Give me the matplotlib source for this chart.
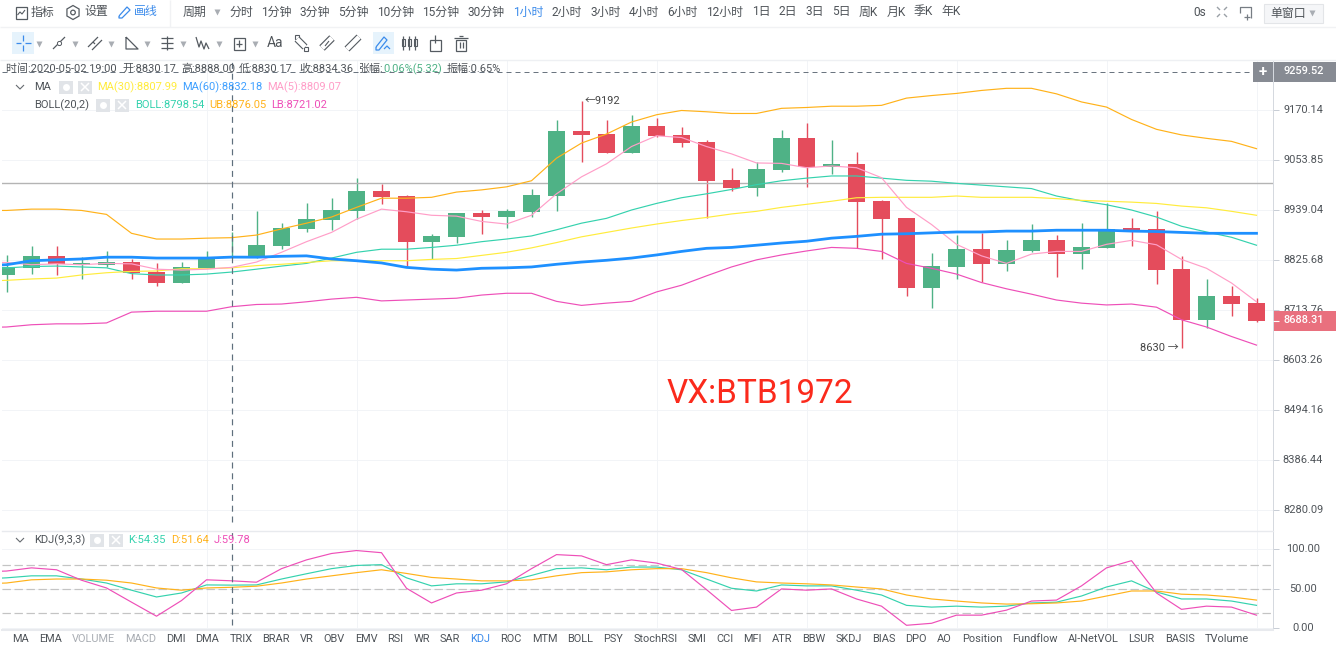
import numpy as np
import matplotlib
matplotlib.use("Agg")
import matplotlib.pyplot as plt
from matplotlib.patches import Rectangle, RegularPolygon, Circle
from matplotlib.transforms import ScaledTranslation

plt.rcParams['font.family'] = ['Roboto', 'Noto Sans CJK SC', 'DejaVu Sans']

# candles, oldest first
opens = [8792, 8808, 8835, 8814, 8815, 8821, 8799, 8773, 8808, 8830.17,
         8831, 8858, 8896, 8916, 8937, 8983, 8971, 8867, 8878, 8932,
         8923, 8934, 8971, 9121, 9114, 9070, 9133, 9112, 9096, 9008,
         8990, 9031, 9105, 9038, 9045, 8960, 8921, 8763, 8810, 8851,
         8817, 8846, 8871, 8839, 8853, 8898, 8896, 8806, 8692, 8745, 8729]
highs = [8837, 8857, 8857, 8832, 8846, 8827, 8820, 8822, 8846, 8888,
         8937, 8910, 8955, 8966, 9012, 8999, 8973, 8885, 8932, 8939,
         8941, 8987, 9147, 9192, 9146, 9159, 9151, 9130, 9100, 9035,
         9050, 9124, 9140, 9100, 9072, 8962, 8921, 8842, 8882, 8887,
         8871, 8907, 8882, 8909, 8955, 8921, 8937, 8835, 8783, 8767, 8741]
lows = [8754, 8794, 8792, 8783, 8811, 8783, 8768, 8773, 8808, 8830.17,
        8831, 8851, 8889, 8893, 8919, 8952, 8812, 8827, 8863, 8885,
        8898, 8923, 8937, 9050, 9070, 9070, 9106, 9084, 8920, 8983,
        8971, 9026, 8991, 9022, 8852, 8828, 8745, 8719, 8783, 8776,
        8802, 8844, 8788, 8806, 8853, 8857, 8772, 8630, 8674, 8700, 8688]
closes = [8811, 8835, 8816, 8819, 8821, 8797, 8773, 8810, 8828, 8834.36,
          8860, 8898, 8919, 8939, 8983, 8969, 8867, 8880, 8932, 8923,
          8937, 8973, 9121, 9112, 9070, 9133, 9110, 9093, 9006, 8990,
          9033, 9105, 9038, 9045, 8958, 8919, 8763, 8812, 8851, 8817,
          8848, 8871, 8839, 8855, 8896, 8894, 8803, 8692, 8745, 8727, 8688.31]

# indicator lines start one bar before the first candle
ma30 = [8778, 8780, 8783, 8785, 8792, 8797, 8800, 8801, 8806, 8806, 8807.99,
        8813, 8816, 8820, 8824, 8824, 8824, 8824, 8827, 8829, 8836,
        8843, 8853, 8865, 8878, 8888, 8898, 8907, 8915, 8922, 8930,
        8936, 8945, 8952, 8959, 8967, 8968, 8968, 8968, 8971, 8968,
        8968, 8968, 8965, 8961, 8959, 8957, 8954, 8948, 8944, 8936, 8927]
ma60 = [8813, 8815, 8824, 8826, 8828, 8832, 8832, 8830, 8830, 8830, 8832.18,
        8832, 8834, 8835, 8828, 8824, 8819, 8809, 8805, 8803, 8807,
        8808, 8810, 8816, 8821, 8825, 8830, 8837, 8845, 8852, 8854,
        8859, 8864, 8868, 8875, 8879, 8884, 8885, 8887, 8889, 8889,
        8891, 8891, 8893, 8893, 8893, 8891, 8890, 8888, 8886, 8886, 8886]
ma5 = [8821, 8820, 8815, 8817, 8815, 8818, 8817, 8805, 8803, 8805, 8809.07,
       8821, 8843, 8867, 8888, 8918, 8941, 8935, 8927, 8925, 8913,
       8907, 8927, 8976, 9015, 9045, 9085, 9110, 9106, 9085, 9068,
       9047, 9046, 9036, 9040, 9036, 9013, 8945, 8906, 8861, 8835,
       8818, 8839, 8845, 8845, 8861, 8870, 8860, 8827, 8807, 8774, 8732]
boll = [8807, 8808, 8811, 8812, 8810, 8808, 8795, 8792, 8792, 8794, 8798.54,
        8805, 8812, 8818, 8830, 8843, 8850, 8850, 8854, 8859, 8867,
        8873, 8880, 8894, 8909, 8920, 8939, 8954, 8967, 8976, 8986,
        8997, 9006, 9012, 9017, 9017, 9012, 9007, 9005, 9000, 8996,
        8992, 8988, 8971, 8960, 8951, 8939, 8923, 8902, 8889, 8877, 8859]
ub = [8938, 8938, 8941, 8941, 8938, 8929, 8886, 8873, 8873, 8875, 8876.05,
      8882, 8896, 8909, 8923, 8945, 8966, 8966, 8968, 8980, 8985,
      8992, 9006, 9058, 9093, 9114, 9142, 9159, 9169, 9166, 9162,
      9162, 9174, 9176, 9179, 9179, 9181, 9198, 9204, 9209, 9216,
      9221, 9221, 9208, 9189, 9177, 9148, 9125, 9112, 9104, 9097, 9080]
lb = [8675, 8676, 8681, 8683, 8683, 8685, 8709, 8711, 8711, 8711, 8721.02,
      8726, 8727, 8732, 8738, 8742, 8734, 8736, 8738, 8740, 8747,
      8751, 8751, 8733, 8724, 8729, 8733, 8754, 8769, 8790, 8810,
      8826, 8837, 8846, 8854, 8852, 8845, 8818, 8807, 8794, 8775,
      8761, 8749, 8736, 8729, 8725, 8727, 8720, 8692, 8676, 8655, 8636]

kdj_k = [62, 63.5, 66, 66, 62, 57, 48, 39.5, 44.5, 54.6, 54.35,
         54.6, 62, 68.6, 75, 79, 80, 63.5, 53.4, 56, 56,
         58.4, 66.5, 75, 76, 73.6, 77, 77, 73.6, 62, 50.4,
         47, 54.6, 53.4, 53.4, 48, 42, 29, 26.8, 28, 26.8,
         28, 32, 33, 40.7, 52, 59.7, 45.8, 37, 37, 34.4, 29]
kdj_d = [56, 57, 61, 62, 62, 60.5, 57, 50.8, 48, 50.8, 51.64,
         53, 57, 62, 66, 70, 73.6, 69, 64, 62, 59.7,
         59.7, 61, 66, 70, 71, 73.6, 75, 75, 70, 63.5,
         58.4, 57, 56, 54.6, 52, 49.6, 42, 37, 34.4, 32,
         30.6, 31, 32, 34.4, 40.7, 47, 47, 43, 42, 39.5, 35.6]
kdj_j = [71, 72, 76, 73.6, 60.5, 50.8, 33, 15.4, 35, 61, 59.78,
         58, 75, 86, 94, 97.7, 95, 50.4, 32, 44.5, 48,
         56, 75, 92.6, 91, 80, 86, 82, 74, 48.7, 22.6,
         26.8, 49.6, 48, 49.6, 37, 28, 4, 6.5, 16.7, 16.7,
         23, 34.4, 35.6, 53.4, 76, 85, 44.5, 24, 28, 26.8, 16.7]

price_ticks = [9170.14, 9053.85, 8939.04, 8825.68, 8713.76, 8603.26, 8494.16, 8386.44, 8280.09]
kdj_ticks = [100, 50, 0]
kdj_levels = [80, 50, 20]
top_price = 9259.52
drawn_level = 9000
cross_bar = 9

period_tabs = ["分时", "1分钟", "3分钟", "5分钟", "10分钟", "15分钟", "30分钟", "1小时", "2小时", "3小时",
               "4小时", "6小时", "12小时", "1日", "2日", "3日", "5日", "周K", "月K", "季K", "年K"]
indicator_tabs = ["MA", "EMA", "VOLUME", "MACD", "DMI", "DMA", "TRIX", "BRAR", "VR", "OBV", "EMV", "RSI",
                  "WR", "SAR", "KDJ", "ROC", "MTM", "BOLL", "PSY", "StochRSI", "SMI", "CCI", "MFI", "ATR",
                  "BBW", "SKDJ", "BIAS", "DPO", "AO", "Position", "Fundflow", "AI-NetVOL", "LSUR", "BASIS",
                  "TVolume"]

GREEN = "#4fb286"
RED = "#e44c5c"
BLUE = "#3b8beb"
GRID = "#f2f4f7"
TEXT = "#4f5459"
C_MA30 = "#ffec3d"
C_MA60 = "#1e90ff"
C_MA5 = "#ff9ec8"
C_BOLL = "#35d2ae"
C_UB = "#ffb21a"
C_LB = "#ee4fb8"
THIN = 0.85

W, H = 1336, 650
PX = 0.72  # one pixel in points at dpi 100
fig = plt.figure(figsize=(W / 100, H / 100), dpi=100, facecolor="white")
label_up = ScaledTranslation(0, 1 / 100, fig.dpi_scale_trans)


def pane(left, top, right, bottom):
    return fig.add_axes([left / W, 1 - bottom / H, (right - left) / W, (bottom - top) / H])


def style_pane(ax):
    ax.set_xlim(-0.18, 50.66)
    ax.set_xticks(np.arange(8, 51, 6))
    ax.tick_params(axis="x", length=0, labelbottom=False)
    ax.yaxis.tick_right()
    ax.tick_params(axis="y", length=6 * PX, width=PX, color="#c9ced6", pad=24 * PX,
                   labelsize=7.9, labelcolor=TEXT)
    ax.grid(True, color=GRID, lw=PX)
    ax.set_axisbelow(True)
    for side in ["left", "bottom"]:
        ax.spines[side].set_visible(False)
    ax.spines["top"].set_color("#e8eaee")
    ax.spines["right"].set_color("#d5d9df")
    ax.spines["right"].set_linewidth(PX)


def center_labels(ax):
    for t in ax.get_yticklabels():
        t.set_ha("center")
        t.set_transform(t.get_transform() + label_up)


# main price pane
ax = pane(2, 60, 1273, 531)
ax.set_yscale("log")
ax.set_ylim(8235.8, 9287.9)
style_pane(ax)
ax.spines["top"].set_visible(False)
ax.set_yticks(price_ticks, labels=["%.2f" % p for p in price_ticks])
ax.set_yticks([], minor=True)
center_labels(ax)

bars = np.arange(len(opens))
o = np.array(opens)
c = np.array(closes)
colors = [GREEN if c[i] >= o[i] else RED for i in bars]
ax.vlines(bars, lows, highs, colors=colors, lw=1.0, zorder=2)
ax.bar(bars, np.abs(c - o), bottom=np.minimum(o, c), width=0.68, color=colors, zorder=3)

ax.axhline(drawn_level, color="#b4b4b4", lw=1.0, zorder=2)
ax.axhline(top_price, color="#6b7580", lw=PX, ls=(0, (5, 4)), zorder=2)
ax.axvline(cross_bar, color="#5f6f7d", lw=PX * 1.2, ls=(0, (5, 4)), ymin=0.02, zorder=6)

line_x = np.arange(-1, len(opens))
ax.plot(line_x, ub, color=C_UB, lw=THIN, zorder=4)
ax.plot(line_x, lb, color=C_LB, lw=THIN, zorder=4)
ax.plot(line_x, boll, color=C_BOLL, lw=THIN, zorder=4)
ax.plot(line_x, ma30, color=C_MA30, lw=THIN, zorder=4)
ax.plot(line_x, ma5, color=C_MA5, lw=THIN, zorder=4)
ax.plot(line_x, ma60, color=C_MA60, lw=2.0, zorder=5)

hi_bar = int(np.argmax(highs))
lo_bar = int(np.argmin(lows))
ax.annotate("←%d" % highs[hi_bar], (hi_bar, highs[hi_bar]), xytext=(2, 0), textcoords="offset points",
            ha="left", va="center", fontsize=7.9, color="#444444")
ax.annotate("%d →" % lows[lo_bar], (lo_bar, lows[lo_bar]), xytext=(-2, 0), textcoords="offset points",
            ha="right", va="center", fontsize=7.9, color="#444444")

# KDJ pane
kax = pane(2, 531, 1273, 630)
kax.set_ylim(-1.9, 122.2)
style_pane(kax)
kax.spines["bottom"].set_visible(True)
kax.spines["bottom"].set_color("#e8eaee")
kax.spines["bottom"].set_linewidth(1.5)
kax.spines["top"].set_linewidth(1.0)
kax.set_yticks(kdj_ticks, labels=["%.2f" % v for v in kdj_ticks])
center_labels(kax)
for lv in kdj_levels:
    kax.axhline(lv, color="#c4c4c4", lw=PX * 1.2, ls=(0, (7, 3)), zorder=2)
kax.axvline(cross_bar, color="#5f6f7d", lw=PX * 1.2, ls=(0, (5, 4)), ymin=0.05, zorder=6)
kax.plot(line_x, kdj_k, color=C_BOLL, lw=THIN, zorder=4)
kax.plot(line_x, kdj_d, color=C_UB, lw=THIN, zorder=4)
kax.plot(line_x, kdj_j, color=C_LB, lw=THIN, zorder=5)

# page chrome on top, in pixel coordinates
ui = fig.add_axes([0, 0, 1, 1], zorder=10)
ui.set_xlim(0, W)
ui.set_ylim(H, 0)
ui.axis("off")
ui.patch.set_alpha(0)


def label(x, y, s, color=TEXT, size=8.6, **kw):
    kw.setdefault("va", "center")
    return ui.text(x, y, s, color=color, fontsize=size, **kw)


def seg(xs, ys, color="#555b61", lw=0.9):
    ui.plot(xs, ys, color=color, lw=lw, solid_capstyle="butt")


def box(x, y, w, h, fc="none", ec="none", lw=0.8):
    ui.add_patch(Rectangle((x, y), w, h, facecolor=fc, edgecolor=ec, lw=lw))


renderer = fig.canvas.get_renderer()


def tabs(names, x, y, gap, size, colors_for):
    for name in names:
        t = label(x, y, name, color=colors_for.get(name, TEXT), size=size)
        x += t.get_window_extent(renderer).width + gap


# separators
seg([0, W], [27, 27], "#f1f2f4", 1.0)
seg([0, W], [60, 60], "#eef0f3", 1.0)
seg([170, 170], [0, 27], "#f1f2f4", 1.0)

# first row
box(15.5, 6.5, 11, 12, ec="#555b61", lw=0.9)
seg([17.5, 20, 22, 25], [15, 12, 14, 10], "#555b61", 0.8)
label(31, 12, "指标")
ui.add_patch(RegularPolygon((73, 12.5), 6, radius=7, fill=False, ec="#555b61", lw=0.9))
ui.add_patch(Circle((73, 12.5), 2.3, fill=False, ec="#555b61", lw=0.9))
label(84, 12, "设置")
seg([119, 127, 130, 122, 119, 119], [16, 7, 10, 18, 18, 16], BLUE, 0.9)
label(134, 12, "画线", color=BLUE)
label(183, 12, "周期")
ui.plot([217], [12], marker="v", ms=4.5, color="#a9adb3", mec="none")
tabs(period_tabs, 229, 12, 8.3, 8.6, {"1小时": BLUE})
label(1193, 12, "0s")
for sx, sy, dx, dy in [(1217, 7, 1, 1), (1227, 7, -1, 1), (1217, 17, 1, -1), (1227, 17, -1, -1)]:
    seg([sx, sx + 3 * dx], [sy, sy + 3 * dy], "#9aa0a6", 1.0)
seg([1240, 1240, 1251, 1251], [13, 7, 7, 18], "#777d84", 0.9)
seg([1244, 1250], [17, 17], "#777d84", 0.9)
seg([1247, 1247], [14, 20], "#777d84", 0.9)
box(1263.5, 3.5, 59, 19, fc="#f5f6f8", ec="#e3e5e8", lw=0.8)
label(1270, 13, "单窗口")
ui.plot([1312], [13], marker="v", ms=4.5, color="#a9adb3", mec="none")

# drawing tool row
box(12, 32, 22, 22, fc="#e6f3fc")
seg([16, 21], [43, 43], BLUE, 0.9)
seg([25, 31], [43, 43], BLUE, 0.9)
seg([23, 23], [35, 41], BLUE, 0.9)
seg([23, 23], [45, 51], BLUE, 0.9)
for tx in [39, 75, 111, 147, 183, 219, 255]:
    ui.plot([tx], [44], marker="v", ms=4, color="#a9adb3", mec="none")
seg([53, 65], [49, 37])
ui.plot([59], [43], marker="o", ms=3, mfc="white", mec="#555b61", mew=0.7)
seg([88, 98], [47, 37])
seg([92, 102], [50, 40])
seg([93, 95], [42, 44])
seg([126, 126, 138, 126], [37, 49, 49, 37])
seg([161, 173], [38, 38])
seg([161, 173], [43, 43])
seg([161, 173], [48, 48])
seg([167, 167], [36, 50])
seg([196, 199, 201, 204, 206, 209], [37, 47, 41, 49, 43, 49])
box(233.5, 37.5, 11, 12, ec="#555b61", lw=0.9)
seg([236, 242], [43.5, 43.5])
seg([239, 239], [40, 47])
label(267, 43, "Aa", size=10)
# ruler style tools
seg([297, 305], [39, 47], "#555b61", 5.0)
seg([297, 305], [39, 47], "white", 3.4)
box(295, 35, 4, 4, ec="#555b61", lw=0.8)
box(304, 47, 4, 4, ec="#555b61", lw=0.8)
seg([322, 332], [48, 38], "#555b61", 5.5)
seg([322, 332], [48, 38], "white", 3.8)
seg([325, 329], [46, 41], "#555b61", 0.8)
seg([347, 359], [49, 37], "#555b61", 5.0)
seg([347, 359], [49, 37], "white", 3.4)
box(373, 32, 21, 22, fc="#e6f3fc")
seg([376, 384, 387, 379, 376, 376], [47, 37, 40, 50, 50, 47], BLUE, 0.9)
seg([384, 387, 390], [49, 46, 49], BLUE, 0.9)
for cx in [403, 409, 415]:
    box(cx - 1.5, 39, 3, 7, ec="#555b61", lw=0.8)
    seg([cx, cx], [36, 50])
box(429.5, 39.5, 11, 11, ec="#555b61", lw=0.9)
seg([435, 435], [35, 43])
box(456, 39.5, 10, 11, ec="#555b61", lw=0.9)
seg([454, 468], [38, 38])
seg([459, 463], [35.5, 35.5])
seg([459.5, 459.5], [42, 48])
seg([462.5, 462.5], [42, 48])

# price boxes on the axis
box(1253, 62, 20, 20, fc="#878b93")
label(1263, 72, "+", color="white", size=11, ha="center", fontweight="bold")
box(1273.5, 62, 62.5, 20, fc="#878b93")
label(1304, 71.5, "%.2f" % top_price, color="white", size=7.9, ha="center", fontweight="medium")
box(1273.5, 311, 62.5, 20, fc="#e9707e")
seg([1273, 1279], [321, 321], "white", 0.8)
label(1304, 320, "%.2f" % closes[-1], color="white", size=7.9, ha="center", fontweight="medium")

# bar data line
label(6, 69, "时间:2020-05-02 19:00", size=7.9)
label(122, 69, "开:%.2f" % opens[cross_bar], size=7.9)
label(181, 69, "高:%.2f" % highs[cross_bar], size=7.9)
label(239, 69, "低:%.2f" % lows[cross_bar], size=7.9)
label(299, 69, "收:%.2f" % closes[cross_bar], size=7.9)
label(358, 69, "张幅:", size=7.9)
label(383, 69, "0.06%(5.32)", color=GREEN, size=7.9)
label(447, 69, "振幅:0.65%", size=7.9)


def chip(x, y):
    box(x, y - 6.5, 14, 13, fc="#e1e4e8")
    ui.plot([x + 7], [y], marker="o", ms=5, color="white", mec="none")


def close_chip(x, y):
    box(x, y - 6.5, 14, 13, fc="#e1e4e8")
    seg([x + 3, x + 11], [y - 4, y + 4], "white", 1.1)
    seg([x + 3, x + 11], [y + 4, y - 4], "white", 1.1)


def chevron(y):
    seg([16, 20, 24], [y - 2, y + 2, y - 2], "#666b70", 0.8)


chevron(87)
label(34, 87, "MA", size=8)
chip(59, 87)
close_chip(78, 87)
label(97, 87, "MA(30):%.2f" % ma30[cross_bar + 1], color=C_MA30, size=8)
label(182, 87, "MA(60):%.2f" % ma60[cross_bar + 1], color="#3fa0ff", size=8)
label(267, 87, "MA(5):%.2f" % ma5[cross_bar + 1], color=C_MA5, size=8)

label(34, 105, "BOLL(20,2)", size=8)
chip(96, 105)
close_chip(115, 105)
label(135, 105, "BOLL:%.2f" % boll[cross_bar + 1], color=C_BOLL, size=8)
label(209, 105, "UB:%.2f" % ub[cross_bar + 1], color=C_UB, size=8)
label(271, 105, "LB:%.2f" % lb[cross_bar + 1], color=C_LB, size=8)

chevron(540)
label(34, 540, "KDJ(9,3,3)", size=8)
chip(90, 540)
close_chip(109, 540)
label(128, 540, "K:%.2f" % kdj_k[cross_bar + 1], color=C_BOLL, size=8)
label(171, 540, "D:%.2f" % kdj_d[cross_bar + 1], color=C_UB, size=8)
label(214, 540, "J:%.2f" % kdj_j[cross_bar + 1], color=C_LB, size=8)

label(667, 394, "VX:BTB1972", color="#fb2a1c", size=24)

tabs(indicator_tabs, 12, 639, 10, 7.9, {"VOLUME": "#a9adb3", "MACD": "#a9adb3", "KDJ": BLUE})

fig.savefig("out.png", dpi=100)
